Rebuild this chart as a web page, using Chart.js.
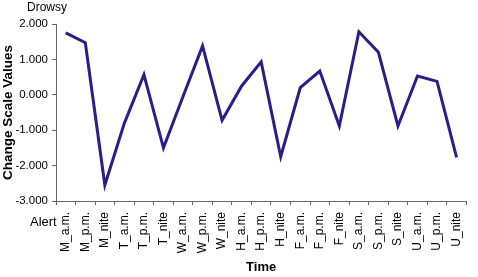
<!DOCTYPE html>
<html>
<head>
<meta charset="utf-8">
<script src="https://cdn.jsdelivr.net/npm/chart.js@4/dist/chart.umd.min.js"></script>
<style>
  html, body { margin: 0; padding: 0; background: #fff; }
  #wrap { width: 478px; height: 277px; }
</style>
</head>
<body>
<div id="wrap"><canvas id="chart"></canvas></div>
<script>
// time slots (day_part), change scale values
const timeLabels = ['M_a.m.', 'M_p.m.', 'M_nite', 'T_a.m.', 'T_p.m.', 'T_nite',
    'W_a.m.', 'W_p.m.', 'W_nite', 'H_a.m.', 'H_p.m.', 'H_nite',
    'F_a.m.', 'F_p.m.', 'F_nite', 'S_a.m.', 'S_p.m.', 'S_nite',
    'U_a.m.', 'U_p.m.', 'U_nite'];
const changeValues = [1.75, 1.47, -2.55, -0.80, 0.57, -1.50,
    -0.05, 1.38, -0.72, 0.25, 0.93, -1.75,
    0.20, 0.67, -0.88, 1.78, 1.20, -0.88,
    0.53, 0.38, -1.77];
const yMin = -3, yMax = 2;

const FONT = "'Liberation Sans', Arial, sans-serif";

// "Drowsy" / "Alert" end labels on the y axis
const endLabels = {
    id: 'endLabels',
    afterDraw(chart) {
        const { ctx, chartArea } = chart;
        ctx.save();
        ctx.fillStyle = '#000';
        ctx.font = '12px ' + FONT;
        ctx.textBaseline = 'middle';
        ctx.fillText('Drowsy', 27, chartArea.top - 16);
        ctx.font = '13px ' + FONT;
        ctx.fillText('Alert', 30, chartArea.bottom + 21);
        ctx.restore();
    }
};

new Chart(document.getElementById('chart'), {
    type: 'line',
    data: {
        labels: timeLabels,
        datasets: [{
            data: changeValues,
            borderColor: '#2e1c88',
            borderWidth: 3,
            pointRadius: 0,
            tension: 0,
            fill: false
        }]
    },
    options: {
        responsive: true, maintainAspectRatio: false,
        animation: false,
        layout: { padding: { top: 24, right: 1, left: 0, bottom: 0 } },
        plugins: { legend: { display: false }, tooltip: { enabled: false } },
        scales: {
            x: {
                offset: true,
                border: { color: '#666', width: 1 },
                grid: { display: true, offset: true, drawOnChartArea: false, drawTicks: true, tickLength: 4, color: '#666' },
                ticks: { color: '#000', font: { family: FONT, size: 12 }, maxRotation: 90, minRotation: 90, autoSkip: false, padding: 7 },
                title: { display: true, text: 'Time', color: '#000', font: { family: FONT, size: 13, weight: 'bold' }, padding: { top: 0, bottom: 2 } },
                afterFit: s => { s.height = 76; }
            },
            y: {
                min: yMin, max: yMax,
                border: { color: '#666', width: 1 },
                grid: { display: true, drawOnChartArea: false, drawTicks: true, tickLength: 4, color: '#666' },
                ticks: { stepSize: 1, color: '#000', font: { family: FONT, size: 11.5 }, padding: 4,
                    callback: v => v.toFixed(3) },
                title: { display: true, text: 'Change Scale Values', color: '#000', font: { family: FONT, size: 13.5, weight: 'bold' }, padding: { top: 0, bottom: 0 } },
                afterFit: s => { s.width = 56; }
            }
        }
    },
    plugins: [endLabels]
});
</script>
</body>
</html>
